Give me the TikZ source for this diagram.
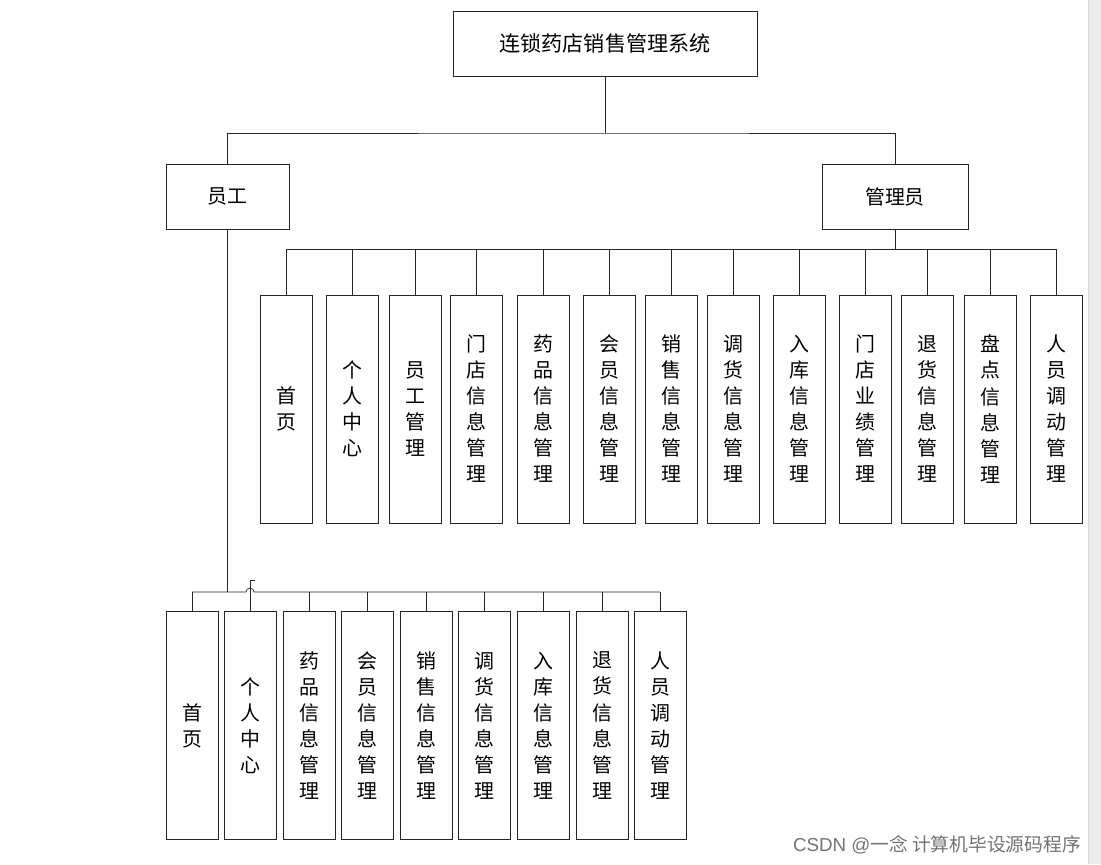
\documentclass[tikz,border=0pt]{standalone}
\usepackage{fontspec}
\setmainfont{Liberation Sans}
\newfontfamily\cjk{Noto Sans CJK SC}
\usetikzlibrary{positioning}

\begin{document}
\begin{tikzpicture}[x=0.03cm, y=-0.03cm,
  box/.style={draw=black!85, line width=0.7pt, fill=white, align=center, inner sep=0pt,
    font=\cjk\fontsize{17}{22.2}\selectfont},
  col/.style={box, minimum width=1.56cm, minimum height=6.84cm},
  link/.style={line width=0.6pt, black!85}]
\useasboundingbox (0,0) rectangle (1101,864);

% Page edge
\fill[black!8] (1088,0) rectangle (1101,864);
\draw[black!15] (1088,0) -- (1088,864);

% Top levels
\node[box, minimum width=9.12cm, minimum height=1.95cm, font=\cjk\fontsize{18}{22}\selectfont] (sys) at (605,43.5) {连锁药店销售管理系统};
\node[box, minimum width=3.69cm, minimum height=1.95cm] (staff) at (227.5,196.5) {员工};
\node[box, minimum width=4.38cm, minimum height=1.95cm] (admin) at (895,196.5) {管理员};

\coordinate (top) at (605,133);
\draw[link] (sys.south) -- (top);
\draw[link] (staff.north) |- (top) -| (admin.north);

% Admin modules
\foreach \x/\t [count=\i] in {286/首\\页, 352.5/个\\人\\中\\心, 415/员\\工\\管\\理, 476.5/门\\店\\信\\息\\管\\理,
  543/药\\品\\信\\息\\管\\理, 609/会\\员\\信\\息\\管\\理, 671.5/销\\售\\信\\息\\管\\理,
  733/调\\货\\信\\息\\管\\理, 799.5/入\\库\\信\\息\\管\\理, 865.5/门\\店\\业\\绩\\管\\理,
  927.5/退\\货\\信\\息\\管\\理, 990/盘\\点\\信\\息\\管\\理, 1056/人\\员\\调\\动\\管\\理}
  \node[col] (a\i) at (\x,409) {\t};

\coordinate (abus) at (895,249);
\draw[link] (admin.south) -- (abus);
\draw[link] (a1.north |- abus) -- (a13.north |- abus);
\foreach \i in {1,...,13}
  \draw[link] (a\i.north |- abus) -- (a\i.north);

% Staff modules
\foreach \x/\t [count=\i] in {192/首\\页, 250/个\\人\\中\\心, 309/药\\品\\信\\息\\管\\理,
  367/会\\员\\信\\息\\管\\理, 426/销\\售\\信\\息\\管\\理, 484/调\\货\\信\\息\\管\\理,
  543/入\\库\\信\\息\\管\\理, 602/退\\货\\信\\息\\管\\理, 660/人\\员\\调\\动\\管\\理}
  \node[col] (e\i) at (\x,725.5) {\t};

\coordinate (ebus) at (227.5,592);
\draw[link] (staff.south) -- (ebus);
\draw[link] (e1.north |- ebus) -- (246,592) arc[start angle=180, end angle=360, radius=4] -- (e9.north |- ebus);
\foreach \i in {1,3,4,5,6,7,8,9}
  \draw[link] (e\i.north |- ebus) -- (e\i.north);
\draw[link] (255,580) -- (e2.north |- 0,580) -- (e2.north);

% Watermark
\node[black!55, font=\fontsize{16}{18}\selectfont, anchor=east] (mark) at (1085,845) {CSDN @{\cjk 一念 计算机毕设源码程序}};
\end{tikzpicture}
\end{document}
